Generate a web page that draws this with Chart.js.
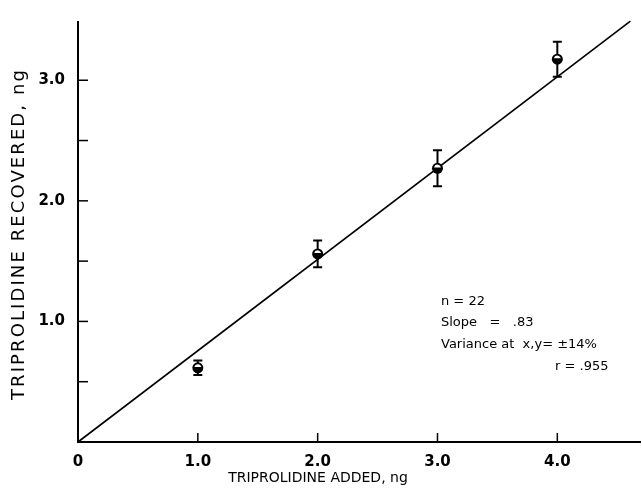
<!DOCTYPE html>
<html>

<head>
  <meta charset="utf-8" />
  <script src="https://cdn.jsdelivr.net/npm/chart.js"></script>
  <style>
    html, body { margin: 0; padding: 0; background: #fff; }
  </style>
</head>

<body>
  <canvas id="recoveryChart" width="642" height="490"></canvas>

<script>
  // values
  var addedNg = [1.0, 2.0, 3.0, 4.0];
  var recoveredNg = [0.615, 1.56, 2.27, 3.175];
  var errNg = [0.06, 0.11, 0.15, 0.145];
  var fitX = [0, 4.61];
  var fitY = [0, 3.49];
  var xTicks = [0, 1, 2, 3, 4];
  var xTickLabels = ['0', '1.0', '2.0', '3.0', '4.0'];
  var yTicks = [0.5, 1, 1.5, 2, 2.5, 3];
  var yTickLabels = ['', '1.0', '', '2.0', '', '3.0'];
  var statsLines = ['n = 22', 'Slope   =   .83', 'Variance at  x,y= \u00b114%', 'r = .955'];
  var xTitle = 'TRIPROLIDINE ADDED, ng';
  var yTitle = 'TRIPROLIDINE RECOVERED, ng';

  // error bars, inward tick marks, markers and texts
  var extras = {
    id: 'extras',
    afterDatasetsDraw: function (chart) {
      var ctx = chart.ctx;
      var xs = chart.scales.x, ys = chart.scales.y;
      var area = chart.chartArea;
      ctx.save();
      ctx.strokeStyle = '#000';
      ctx.fillStyle = '#000';
      ctx.lineWidth = 1.5;

      // tick marks pointing into the plot
      xTicks.forEach(function (v) {
        if (v === 0) return;
        var px = xs.getPixelForValue(v);
        ctx.beginPath();
        ctx.moveTo(px, area.bottom);
        ctx.lineTo(px, area.bottom - 9);
        ctx.stroke();
      });
      yTicks.forEach(function (v) {
        var py = ys.getPixelForValue(v);
        ctx.beginPath();
        ctx.moveTo(area.left, py);
        ctx.lineTo(area.left + 10, py);
        ctx.stroke();
      });

      // error bars
      ctx.lineWidth = 2;
      addedNg.forEach(function (x, i) {
        var px = xs.getPixelForValue(x);
        var top = ys.getPixelForValue(recoveredNg[i] + errNg[i]);
        var bot = ys.getPixelForValue(recoveredNg[i] - errNg[i]);
        ctx.beginPath();
        ctx.moveTo(px, top);
        ctx.lineTo(px, bot);
        ctx.moveTo(px - 4.5, top);
        ctx.lineTo(px + 4.5, top);
        ctx.moveTo(px - 4.5, bot);
        ctx.lineTo(px + 4.5, bot);
        ctx.stroke();
      });

      // half-filled circles
      addedNg.forEach(function (x, i) {
        var px = xs.getPixelForValue(x);
        var py = ys.getPixelForValue(recoveredNg[i]);
        ctx.fillStyle = '#000';
        ctx.beginPath();
        ctx.arc(px, py, 5.5, 0, Math.PI * 2);
        ctx.fill();
        ctx.fillStyle = '#fff';
        ctx.beginPath();
        ctx.arc(px, py, 3.6, Math.PI * 1.08, Math.PI * 1.92);
        ctx.closePath();
        ctx.fill();
      });
      ctx.restore();
    },
    afterDraw: function (chart) {
      var ctx = chart.ctx;
      ctx.save();
      ctx.fillStyle = '#000';
      ctx.textBaseline = 'middle';

      // axis titles
      ctx.font = '14px "DejaVu Sans"';
      ctx.textAlign = 'center';
      ctx.fillText(xTitle, 318, 478);

      ctx.save();
      ctx.translate(19, 234);
      ctx.rotate(-Math.PI / 2);
      ctx.font = '18px "DejaVu Sans"';
      ctx.letterSpacing = '2.1px';
      ctx.fillText(yTitle, 0, 0);
      ctx.restore();

      // statistics block
      ctx.font = '13px "DejaVu Sans"';
      ctx.textAlign = 'left';
      ctx.fillText(statsLines[0], 441, 302);
      ctx.fillText(statsLines[1], 441, 323);
      ctx.fillText(statsLines[2], 441, 345);
      ctx.fillText(statsLines[3], 555, 367);
      ctx.restore();
    }
  };

  var ctx = document.getElementById('recoveryChart');
  new Chart(ctx, {
    type: 'scatter',
    data: {
      datasets: [{
        type: 'line',
        label: 'fit',
        data: fitX.map(function (x, i) { return { x: x, y: fitY[i] }; }),
        borderColor: '#000',
        borderWidth: 1.6,
        pointRadius: 0,
        fill: false,
        clip: false
      }, {
        label: 'recovered',
        data: addedNg.map(function (x, i) { return { x: x, y: recoveredNg[i] }; }),
        pointRadius: 0,
        backgroundColor: '#000'
      }]
    },
    options: {
      responsive: false,
      animation: false,
      layout: { padding: { top: 15, right: 2, left: 0, bottom: 0 } },
      plugins: {
        legend: { display: false },
        tooltip: { enabled: false }
      },
      scales: {
        x: {
          type: 'linear',
          min: 0,
          max: 4.69,
          grid: { display: false, drawTicks: false },
          border: { display: true, color: '#000', width: 2 },
          afterBuildTicks: function (s) {
            s.ticks = xTicks.map(function (v) { return { value: v }; });
          },
          afterFit: function (s) { s.height = 48; },
          ticks: {
            color: '#000',
            padding: 11,
            font: { family: 'DejaVu Sans', size: 15, weight: 'bold' },
            callback: function (v, i) { return xTickLabels[i]; }
          }
        },
        y: {
          type: 'linear',
          min: 0,
          max: 3.483,
          grid: { display: false, drawTicks: false },
          border: { display: true, color: '#000', width: 2 },
          afterBuildTicks: function (s) {
            s.ticks = yTicks.map(function (v) { return { value: v }; });
          },
          afterFit: function (s) { s.width = 78; },
          ticks: {
            color: '#000',
            padding: 13,
            font: { family: 'DejaVu Sans', size: 15, weight: 'bold' },
            callback: function (v, i) { return yTickLabels[i]; }
          }
        }
      }
    },
    plugins: [extras]
  });
</script>

</body>

</html>
